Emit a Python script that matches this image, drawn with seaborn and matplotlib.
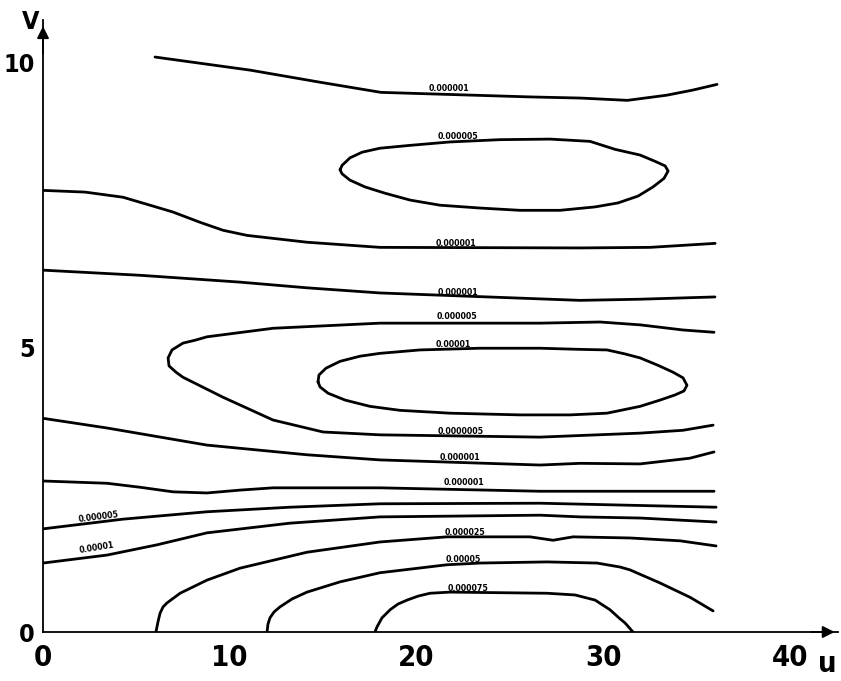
import numpy as np
import pandas as pd
import matplotlib
matplotlib.use("Agg")
import matplotlib.pyplot as plt
import seaborn as sns

sns.set_style("white")

# ---- contour lines (u, v) ----
c1_u = [6.0, 11.1, 14.8, 18.1, 22.1, 26.1, 28.8, 31.3, 33.4, 34.8, 36.1]
c1_v = [10.09, 9.86, 9.65, 9.47, 9.43, 9.39, 9.37, 9.33, 9.42, 9.51, 9.61]

c2_u = [15.91, 16.02, 16.44, 17.09, 18.05, 19.66, 21.80, 24.48, 27.16, 29.30, 30.64, 31.98,
        32.78, 33.32, 33.48, 33.26, 32.67, 31.87, 30.80, 29.57, 27.69, 25.55, 23.41, 21.26,
        19.66, 18.32, 17.25, 16.44, 16.02, 15.91]
c2_v = [8.11, 8.19, 8.32, 8.42, 8.49, 8.54, 8.60, 8.64, 8.65, 8.61, 8.47, 8.37,
        8.26, 8.18, 8.09, 7.96, 7.81, 7.65, 7.53, 7.46, 7.40, 7.40, 7.44, 7.49,
        7.58, 7.70, 7.81, 7.93, 8.04, 8.11]

c3_u = [0.0, 2.25, 4.28, 5.73, 6.96, 8.41, 9.64, 10.93, 14.14, 18.05, 28.76, 32.51, 36.0]
c3_v = [7.75, 7.72, 7.63, 7.49, 7.37, 7.19, 7.05, 6.96, 6.84, 6.75, 6.74, 6.75, 6.82]

c4_u = [0.0, 5.20, 10.55, 14.14, 18.05, 28.76, 31.98, 35.99]
c4_v = [6.35, 6.26, 6.14, 6.04, 5.95, 5.82, 5.84, 5.88]

c5_u = [35.94, 34.28, 31.98, 29.83, 26.62, 18.05, 12.32, 8.78, 8.14, 7.50, 6.91, 6.70,
        6.75, 7.12, 7.50, 9.64, 12.32, 15.0, 18.05, 26.62, 31.98, 34.28, 35.89]
c5_v = [5.26, 5.30, 5.39, 5.44, 5.42, 5.42, 5.33, 5.18, 5.12, 5.07, 4.95, 4.81,
        4.67, 4.56, 4.47, 4.12, 3.72, 3.51, 3.46, 3.42, 3.49, 3.54, 3.63]

c6_u = [14.73, 14.78, 15.16, 15.91, 16.98, 18.05, 20.19, 23.41, 26.62, 28.76, 30.21, 31.17,
        31.98, 32.94, 33.74, 34.28, 34.49, 34.33, 33.85, 33.05, 31.98, 30.21, 28.23, 25.55,
        21.80, 19.12, 17.51, 16.18, 15.27, 14.84, 14.73]
c6_v = [4.39, 4.51, 4.63, 4.75, 4.84, 4.89, 4.95, 4.98, 4.98, 4.96, 4.95, 4.88,
        4.81, 4.68, 4.56, 4.46, 4.33, 4.23, 4.16, 4.07, 3.96, 3.84, 3.81, 3.81,
        3.84, 3.89, 3.96, 4.07, 4.19, 4.30, 4.39]

c7_u = [0.0, 3.43, 8.78, 14.14, 18.05, 26.62, 28.76, 31.98, 34.65, 35.94]
c7_v = [3.75, 3.58, 3.28, 3.11, 3.02, 2.93, 2.96, 2.95, 3.05, 3.16]

c8_u = [0.0, 3.43, 5.20, 6.96, 8.78, 10.55, 12.32, 18.05, 26.62, 35.94]
c8_v = [2.65, 2.61, 2.54, 2.46, 2.44, 2.49, 2.53, 2.53, 2.47, 2.47]

c9_u = [0.0, 4.28, 8.78, 13.23, 18.05, 26.62, 36.05]
c9_v = [1.81, 1.98, 2.11, 2.19, 2.25, 2.26, 2.19]

c10_u = [0.0, 3.43, 6.11, 8.78, 13.23, 18.05, 26.62, 28.76, 31.98, 36.05]
c10_v = [1.21, 1.35, 1.53, 1.74, 1.91, 2.02, 2.05, 2.02, 2.00, 1.93]

c11_u = [6.05, 6.16, 6.27, 6.43, 6.64, 7.34, 8.78, 10.55, 14.14, 18.05, 21.64, 26.08,
         27.32, 28.39, 31.44, 34.12, 36.05]
c11_v = [0.0, 0.18, 0.33, 0.44, 0.51, 0.68, 0.91, 1.12, 1.40, 1.58, 1.67, 1.67,
         1.61, 1.67, 1.65, 1.60, 1.51]

c12_u = [12.0, 12.05, 12.16, 12.37, 12.69, 13.34, 14.14, 15.91, 18.05, 21.64, 23.41, 27.0,
         29.67, 30.91, 31.44, 33.05, 34.65, 35.89]
c12_v = [0.0, 0.14, 0.25, 0.35, 0.44, 0.58, 0.70, 0.88, 1.04, 1.18, 1.21, 1.23,
         1.21, 1.14, 1.09, 0.86, 0.61, 0.37]

c13_u = [17.78, 17.89, 18.16, 18.59, 19.01, 19.50, 20.09, 20.73, 21.80, 27.0, 28.50, 29.57,
         30.37, 30.91, 31.17, 31.60]
c13_v = [0.0, 0.09, 0.25, 0.39, 0.49, 0.56, 0.63, 0.68, 0.70, 0.68, 0.65, 0.56,
         0.39, 0.23, 0.16, 0.0]

contours = [(c1_u, c1_v), (c2_u, c2_v), (c3_u, c3_v), (c4_u, c4_v), (c5_u, c5_v),
            (c6_u, c6_v), (c7_u, c7_v), (c8_u, c8_v), (c9_u, c9_v), (c10_u, c10_v),
            (c11_u, c11_v), (c12_u, c12_v), (c13_u, c13_v)]

# ---- contour labels ----
label_text = ["0.000001", "0.000005", "0.000001", "0.000001", "0.000005", "0.00001",
              "0.0000005", "0.000001", "0.000001", "0.000005", "0.00001",
              "0.000025", "0.00005", "0.000075"]
label_u = [21.75, 22.23, 22.12, 22.23, 22.17, 21.96, 22.39, 22.34, 22.55, 2.95, 2.89,
           22.6, 22.5, 22.76]
label_v = [9.54, 8.70, 6.82, 5.96, 5.54, 5.05, 3.51, 3.07, 2.63, 2.02, 1.47,
           1.75, 1.28, 0.77]
label_rot = [0, 0, 0, 0, 0, 0, 0, 0, 0, 7, 9, 0, 0, 0]

x_ticks = [0, 10, 20, 30, 40]
y_ticks = [0, 5, 10]

W, H = 841, 681
fig = plt.figure(figsize=(W / 100, H / 100), dpi=100)
ax = fig.add_axes([43 / W, 49 / H, (838 - 43) / W, (632 - 20) / H])
ax.set_xlim(0, 42.58)
ax.set_ylim(0, 10.74)

for u, v in contours:
    df = pd.DataFrame({"u": u, "v": v})
    sns.lineplot(data=df, x="u", y="v", sort=False, estimator=None, color="black",
                 lw=2.0, ax=ax)

for t, x, y, r in zip(label_text, label_u, label_v, label_rot):
    ax.text(x, y, t, fontsize=6.3, fontweight="bold", family=["DejaVu Sans"],
            stretch="condensed", ha="center", va="center", rotation=r, color="black")

for s in ["top", "right"]:
    ax.spines[s].set_visible(False)
for s in ["left", "bottom"]:
    ax.spines[s].set_linewidth(1.3)
    ax.spines[s].set_color("black")

ax.set_xticks(x_ticks)
ax.set_yticks(y_ticks)
xfont = dict(family=["Liberation Sans Narrow", "DejaVu Sans"], weight="bold",
             stretch="condensed", size=21)
yfont = dict(family=["Liberation Sans Narrow", "DejaVu Sans"], weight="bold",
             stretch="condensed", size=18)
ax.set_xticklabels([str(t) for t in x_ticks], fontdict=xfont)
ax.set_yticklabels([str(t) for t in y_ticks], fontdict=yfont)
ax.tick_params(axis="x", direction="inout", length=11, width=1.3, pad=3, colors="black")
ax.tick_params(axis="y", direction="inout", length=11, width=1.3, pad=0.5, colors="black")
ax.set_xlabel("")
ax.set_ylabel("")

# arrow heads
ax.annotate("", xy=(42.55, 0), xytext=(41.0, 0), xycoords="data",
            arrowprops=dict(arrowstyle="-|>", color="black", lw=1.3, mutation_scale=18),
            annotation_clip=False)
ax.annotate("", xy=(0, 10.68), xytext=(0, 10.1), xycoords="data",
            arrowprops=dict(arrowstyle="-|>", color="black", lw=1.3, mutation_scale=18),
            annotation_clip=False)

fig.text(31 / W, 1 - 22 / H, "V", ha="center", va="center", color="black",
         family=["Liberation Sans Narrow", "DejaVu Sans"], weight="bold",
         stretch="condensed", size=18)
fig.text(827 / W, 1 - 664 / H, "u", ha="center", va="center", color="black",
         family=["Liberation Sans Narrow", "DejaVu Sans"], weight="bold",
         stretch="condensed", size=21)

fig.savefig("out.png", dpi=100, facecolor="white")
